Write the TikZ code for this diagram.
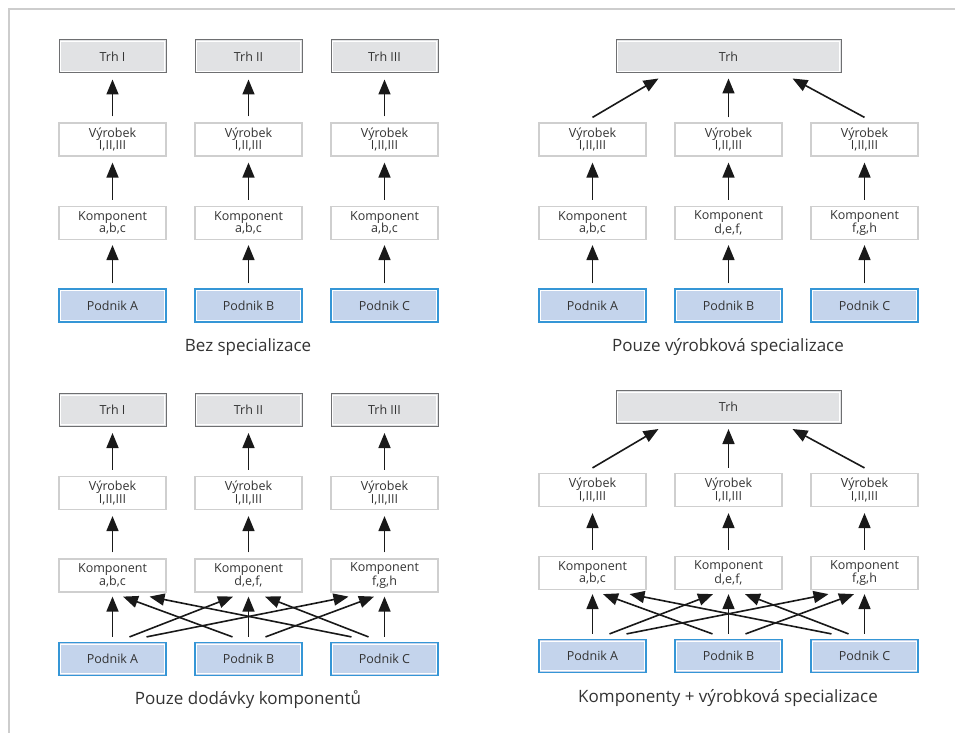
\documentclass[tikz,border=0pt]{standalone}
\usepackage{fontspec}
\setmainfont{Open Sans}
\usetikzlibrary{arrows.meta}
\definecolor{txt}{HTML}{333333}
\definecolor{trhborder}{HTML}{6E6F71}
\definecolor{trhfill}{HTML}{E1E2E4}
\definecolor{lightborder}{HTML}{CFCFCF}
\definecolor{firmborder}{HTML}{3596D6}
\definecolor{firmfill}{HTML}{C4D4EC}
\definecolor{framec}{HTML}{CDCDCD}
\tikzset{
  base/.style={minimum width=107pt, minimum height=33pt, inner sep=0pt,
    font=\fontsize{12.5}{12.5}\selectfont, text=txt, align=center},
  innerline/.style={path picture={\draw[white,line width=1pt]
    ([shift={(1.8pt,-1.8pt)}]path picture bounding box.north west) rectangle
    ([shift={(-1.8pt,1.8pt)}]path picture bounding box.south east);}},
  market/.style={base, draw=trhborder, line width=1pt, fill=trhfill, innerline},
  prod/.style={base, draw=lightborder, line width=1.2pt, fill=white},
  firm/.style={base, draw=firmborder, line width=1.2pt, fill=firmfill, innerline},
  arr/.style={-{Triangle[length=15pt,width=12pt]}, line width=1.6pt, black!90},
  captxt/.style={font=\fontsize{17}{20}\selectfont, text=txt}
}
\begin{document}
\begin{tikzpicture}[x=1pt,y=-1pt]
\useasboundingbox (0,0) rectangle (955,733);
\draw[framec, line width=2pt] (955,9) -- (9,9) -- (9,733);

% ---------- panel 1: Bez specializace ----------
\foreach \i/\x/\m/\p in {1/112.5/{Trh I}/A, 2/248.5/{Trh II}/B, 3/384.5/{Trh III}/C}{
  \node[market] (p1t\i) at (\x,56.5) {\m};
  \node[prod] (p1v\i) at (\x,139.5) {Výrobek\\I,II,III};
  \node[prod] (p1k\i) at (\x,223) {Komponent\\a,b,c};
  \node[firm] (p1f\i) at (\x,305.5) {Podnik \p};
  \draw[arr] ([yshift=5pt]p1f\i.north) -- ([yshift=-5pt]p1k\i.south);
  \draw[arr] ([yshift=6pt]p1k\i.north) -- ([yshift=-6pt]p1v\i.south);
  \draw[arr] ([yshift=6pt]p1v\i.north) -- ([yshift=-6pt]p1t\i.south);
}
\node[captxt] (c1) at (248,347) {Bez specializace};

% ---------- panel 2: Pouze výrobková specializace ----------
\node[market, minimum width=225pt] (p2t) at (728.5,56.5) {Trh};
\foreach \i/\x/\c/\p in {1/592.5/{a,b,c}/A, 2/728.5/{d,e,f,}/B, 3/864.5/{f,g,h}/C}{
  \node[prod] (p2v\i) at (\x,139.5) {Výrobek\\I,II,III};
  \node[prod] (p2k\i) at (\x,223) {Komponent\\\c};
  \node[firm] (p2f\i) at (\x,305.5) {Podnik \p};
  \draw[arr] ([yshift=5pt]p2f\i.north) -- ([yshift=-5pt]p2k\i.south);
  \draw[arr] ([yshift=6pt]p2k\i.north) -- ([yshift=-6pt]p2v\i.south);
}
\draw[arr] ([yshift=5pt]p2v1.north) -- ([xshift=-70pt,yshift=-5pt]p2t.south);
\draw[arr] ([yshift=5pt]p2v2.north) -- ([yshift=-5pt]p2t.south);
\draw[arr] ([yshift=5pt]p2v3.north) -- ([xshift=64pt,yshift=-5pt]p2t.south);
\node[captxt] (c2) at (728,347) {Pouze výrobková specializace};

% ---------- panel 3: Pouze dodávky komponentů ----------
\foreach \i/\x/\m/\c/\p in {1/112.5/{Trh I}/{a,b,c}/A, 2/248.5/{Trh II}/{d,e,f,}/B, 3/384.5/{Trh III}/{f,g,h}/C}{
  \node[market] (p3t\i) at (\x,410) {\m};
  \node[prod] (p3v\i) at (\x,493) {Výrobek\\I,II,III};
  \node[prod] (p3k\i) at (\x,575.5) {Komponent\\\c};
  \node[firm] (p3f\i) at (\x,659) {Podnik \p};
  \draw[arr] ([yshift=5pt]p3f\i.north) -- ([yshift=-4pt]p3k\i.south);
  \draw[arr] ([yshift=6pt]p3k\i.north) -- ([yshift=-6pt]p3v\i.south);
  \draw[arr] ([yshift=6pt]p3v\i.north) -- ([yshift=-6pt]p3t\i.south);
}
\node[captxt] (c3) at (248,700) {Pouze dodávky komponentů};

% ---------- panel 4: Komponenty + výrobková specializace ----------
\node[market, minimum width=225pt] (p4t) at (728.5,407) {Trh};
\foreach \i/\x/\c/\p in {1/592.5/{a,b,c}/A, 2/728.5/{d,e,f,}/B, 3/864.5/{f,g,h}/C}{
  \node[prod] (p4v\i) at (\x,490) {Výrobek\\I,II,III};
  \node[prod] (p4k\i) at (\x,573) {Komponent\\\c};
  \node[firm] (p4f\i) at (\x,656) {Podnik \p};
  \draw[arr] ([yshift=5pt]p4f\i.north) -- ([yshift=-4pt]p4k\i.south);
  \draw[arr] ([yshift=6pt]p4k\i.north) -- ([yshift=-6pt]p4v\i.south);
}
\draw[arr] ([yshift=5pt]p4v1.north) -- ([xshift=-70pt,yshift=-5pt]p4t.south);
\draw[arr] ([yshift=5pt]p4v2.north) -- ([yshift=-5pt]p4t.south);
\draw[arr] ([yshift=5pt]p4v3.north) -- ([xshift=64pt,yshift=-5pt]p4t.south);
\node[captxt] (c4) at (728,698) {Komponenty + výrobková specializace};

% ---------- crossing supply arrows (panels 3 and 4) ----------
\foreach \q in {3,4}{
  \draw[arr] ([xshift=17pt,yshift=5pt]p\q f1.north) -- ([xshift=-15.5pt,yshift=-4pt]p\q k2.south);
  \draw[arr] ([xshift=34pt,yshift=5pt]p\q f1.north) -- ([xshift=-36pt,yshift=-4pt]p\q k3.south);
  \draw[arr] ([xshift=-16pt,yshift=5pt]p\q f2.north) -- ([xshift=10.5pt,yshift=-4pt]p\q k1.south);
  \draw[arr] ([xshift=17pt,yshift=5pt]p\q f2.north) -- ([xshift=-10.5pt,yshift=-4pt]p\q k3.south);
  \draw[arr] ([xshift=-33pt,yshift=5pt]p\q f3.north) -- ([xshift=37pt,yshift=-4pt]p\q k1.south);
  \draw[arr] ([xshift=-16pt,yshift=5pt]p\q f3.north) -- ([xshift=16.5pt,yshift=-4pt]p\q k2.south);
}
\end{tikzpicture}
\end{document}
